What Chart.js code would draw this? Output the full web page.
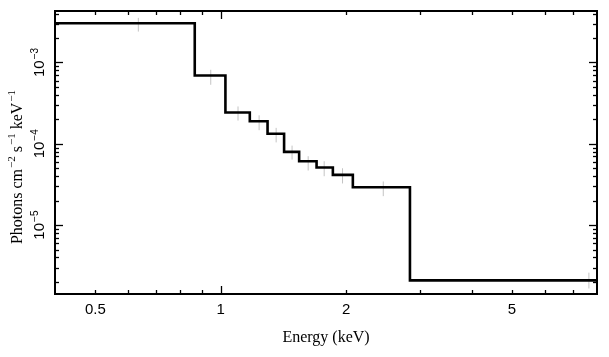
<!DOCTYPE html>
<html>
<head>
<meta charset="utf-8">
<script src="https://cdn.jsdelivr.net/npm/chart.js@4"></script>
<style>
html,body{margin:0;padding:0;background:#fff;}
canvas{display:block;}
</style>
</head>
<body>
<canvas id="c" width="609" height="357"></canvas>
<script>
// Model histogram: lower bin edges (keV) and model flux levels
const binEdges = [0.4, 0.866, 1.026, 1.174, 1.295, 1.419, 1.542, 1.698, 1.858, 2.075, 2.845];
const binEndX = 8;
const modelLevels = [3.04e-3, 6.93e-4, 2.43e-4, 1.89e-4, 1.33e-4, 7.96e-5, 6.1e-5, 5.1e-5, 4.15e-5, 2.92e-5, 2.09e-6];
// Data error bars (grey)
const errX  = [0.634, 0.946, 1.100, 1.236, 1.358, 1.483, 1.621, 1.771, 1.960, 2.455, 7.65];
const errLo = [2.40e-3, 5.32e-4, 1.93e-4, 1.47e-4, 1.04e-4, 6.4e-5, 4.69e-5, 3.99e-5, 3.25e-5, 2.27e-5, 1.66e-6];
const errHi = [3.54e-3, 8.13e-4, 2.88e-4, 2.24e-4, 1.57e-4, 9.5e-5, 7.03e-5, 6.1e-5, 5.0e-5, 3.44e-5, 2.60e-6];
// Axis ranges and ticks
const xMin = 0.4, xMax = 8;
const yMin = 1.42e-6, yMax = 4.3e-3;
const xTickValues = [0.5, 0.6, 0.7, 0.8, 0.9, 1, 2, 3, 4, 5, 6, 7];
const xTickLabels = {0.5: '0.5', 1: '1', 2: '2', 5: '5'};
const xMajorTicks = [1];
const yMajorTicks = [1e-3, 1e-4, 1e-5];
const yMajorExponents = ['\u22123', '\u22124', '\u22125'];
const yMinorTicks = [2e-6,3e-6,4e-6,5e-6,6e-6,7e-6,8e-6,9e-6,
                     2e-5,3e-5,4e-5,5e-5,6e-5,7e-5,8e-5,9e-5,
                     2e-4,3e-4,4e-4,5e-4,6e-4,7e-4,8e-4,9e-4,
                     2e-3,3e-3,4e-3];
const xTitle = 'Energy (keV)';
const yTitleParts = [['Photons cm', false], ['\u22122', true], [' s', false], ['\u22121', true], [' keV', false], ['\u22121', true]];

const stepPoints = binEdges.map((e, i) => ({x: e, y: modelLevels[i]}));
stepPoints.push({x: binEndX, y: modelLevels[modelLevels.length - 1]});

const errPoints = [];
errX.forEach((xv, i) => {
  errPoints.push({x: xv, y: errLo[i]});
  errPoints.push({x: xv, y: errHi[i]});
  errPoints.push({x: xv, y: null});
});

const framePlugin = {
  id: 'framePlugin',
  afterDatasetsDraw(chart) {
    const {ctx, chartArea: a, scales: {x, y}} = chart;
    ctx.save();
    ctx.strokeStyle = '#000';
    ctx.lineWidth = 2;
    ctx.strokeRect(a.left, a.top, a.right - a.left, a.bottom - a.top);
    ctx.lineWidth = 1.3;
    const seg = (x1, y1, x2, y2) => { ctx.beginPath(); ctx.moveTo(x1, y1); ctx.lineTo(x2, y2); ctx.stroke(); };
    xTickValues.forEach(v => {
      const px = Math.round(x.getPixelForValue(v)) + 0.5;
      const len = xMajorTicks.includes(v) ? 8 : 4;
      seg(px, a.bottom, px, a.bottom - len);
      seg(px, a.top, px, a.top + len);
    });
    yMajorTicks.forEach(v => {
      const py = Math.round(y.getPixelForValue(v)) + 0.5;
      seg(a.left, py, a.left + 8, py);
      seg(a.right, py, a.right - 8, py);
    });
    yMinorTicks.forEach(v => {
      const py = Math.round(y.getPixelForValue(v)) + 0.5;
      seg(a.left, py, a.left + 4, py);
      seg(a.right, py, a.right - 4, py);
    });
    // y tick labels (rotated, with superscripts)
    ctx.fillStyle = '#000';
    ctx.textBaseline = 'alphabetic';
    ctx.textAlign = 'left';
    const tickF = '15px "Liberation Sans", Arial, sans-serif';
    const supF = '10px "Liberation Sans", Arial, sans-serif';
    yMajorTicks.forEach((v, i) => {
      const py = y.getPixelForValue(v);
      ctx.save();
      ctx.translate(44, py);
      ctx.rotate(-Math.PI / 2);
      ctx.font = tickF;
      const w1 = ctx.measureText('10').width;
      ctx.font = supF;
      const w2 = ctx.measureText(yMajorExponents[i]).width;
      const start = -(w1 + w2 + 1) / 2;
      ctx.font = tickF;
      ctx.fillText('10', start, 0);
      ctx.font = supF;
      ctx.fillText(yMajorExponents[i], start + w1 + 1, -6);
      ctx.restore();
    });
    // y title
    ctx.save();
    ctx.translate(22, 167);
    ctx.rotate(-Math.PI / 2);
    const bigF = '16px "Liberation Serif", "Times New Roman", serif';
    const smallF = '11px "Liberation Serif", "Times New Roman", serif';
    let total = 0;
    yTitleParts.forEach(([t, sup]) => { ctx.font = sup ? smallF : bigF; total += ctx.measureText(t).width + (sup ? 1 : 0); });
    let cx = -total / 2;
    yTitleParts.forEach(([t, sup]) => {
      ctx.font = sup ? smallF : bigF;
      ctx.fillText(t, cx + (sup ? 1 : 0), sup ? -7 : 0);
      cx += ctx.measureText(t).width + (sup ? 1 : 0);
    });
    ctx.restore();
    ctx.restore();
  }
};

new Chart(document.getElementById('c'), {
  type: 'line',
  data: {
    datasets: [
      {
        label: 'model',
        data: stepPoints,
        stepped: 'before',
        borderColor: '#000',
        borderWidth: 2.6,
        pointRadius: 0,
        fill: false
      },
      {
        label: 'data',
        data: errPoints,
        borderColor: '#c4c4c4',
        borderWidth: 1,
        pointRadius: 0,
        spanGaps: false,
        fill: false
      }
    ]
  },
  options: {
    responsive: false,
    devicePixelRatio: 1,
    animation: false,
    layout: {padding: {top: 11, right: 12, left: 0, bottom: 0}},
    plugins: {legend: {display: false}, tooltip: {enabled: false}},
    scales: {
      x: {
        type: 'logarithmic',
        position: 'bottom',
        min: xMin,
        max: xMax,
        grid: {display: false, drawTicks: false},
        border: {display: false},
        afterBuildTicks: (s) => { s.ticks = xTickValues.map(v => ({value: v})); },
        afterFit: (s) => { s.height = 63; },
        ticks: {
          autoSkip: false,
          maxRotation: 0,
          minRotation: 0,
          padding: 7,
          color: '#000',
          font: {family: '"Liberation Sans", Arial, sans-serif', size: 15},
          callback: (v) => xTickLabels[v] || ''
        },
        title: {
          display: true,
          text: xTitle,
          color: '#000',
          font: {family: '"Liberation Serif", "Times New Roman", serif', size: 16},
          padding: {top: 0, bottom: 10}
        }
      },
      y: {
        type: 'logarithmic',
        position: 'left',
        min: yMin,
        max: yMax,
        grid: {display: false, drawTicks: false},
        border: {display: false},
        ticks: {display: false},
        afterFit: (s) => { s.width = 55; }
      }
    }
  },
  plugins: [framePlugin]
});
</script>
</body>
</html>
